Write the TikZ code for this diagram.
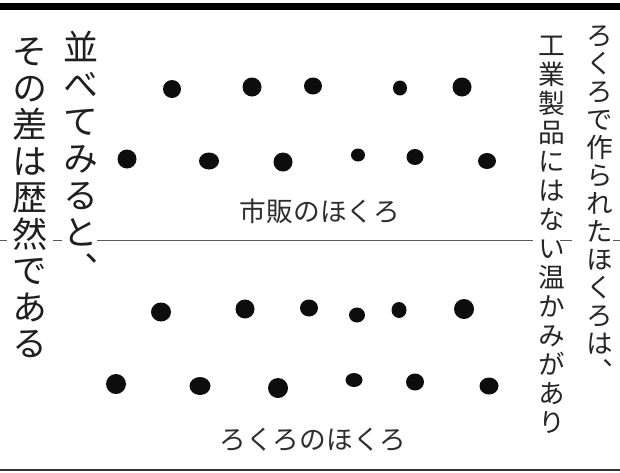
\documentclass[tikz,border=0pt]{standalone}
\usepackage{fontspec}
\newfontfamily\jp{Noto Sans CJK JP}
\newfontfamily\jpv[RawFeature=+vert]{Noto Sans CJK JP}
\begin{document}
\begin{tikzpicture}[x=1pt,y=-1pt,
  dotfill/.style={fill=black!95},
  bigcol/.style={font=\jpv\fontsize{35}{37}\selectfont, align=center, inner sep=0pt, text=black!88},
  smallcolA/.style={font=\jpv\fontsize{26.7}{28}\selectfont, align=center, inner sep=0pt, text=black!85},
  smallcolB/.style={font=\jpv\fontsize{26.7}{29}\selectfont, align=center, inner sep=0pt, text=black!85},
  caption/.style={font=\jp\fontsize{26.7}{30}\selectfont, inner sep=0pt, text=black!82},
  divider/.style={line width=0.9pt, draw=black!65}]
\useasboundingbox (0,0) rectangle (620,472);
\fill[white] (0,0) rectangle (620,472);
% top bar and bottom rule
\fill[black] (0,2.5) rectangle (620,9.5);
\draw[line width=2.2pt, draw=black!80] (0,470) -- (620,470);

% vertical texts
\node[bigcol] (colA) at (81,157) {並\\べ\\て\\み\\る\\と\\、};
\node[bigcol, font=\jpv\fontsize{35}{36.5}\selectfont] (colB) at (30,198) {そ\\の\\差\\は\\歴\\然\\で\\あ\\る};
\node[smallcolA] (colC) at (600,204) {ろ\\く\\ろ\\で\\作\\ら\\れ\\た\\ほ\\く\\ろ\\は\\、};
\node[smallcolB] (colD) at (552,234.5) {工\\業\\製\\品\\に\\は\\な\\い\\温\\か\\み\\が\\あ\\り};

% captions
\node[caption] (upper) at (320,211) {市販のほくろ};
\node[caption] (lower) at (313,440) {ろくろのほくろ};

% divider line with gaps round the vertical texts
\coordinate (d0) at (0,240);   \coordinate (d1) at (7,240);
\coordinate (d2) at (53,240);  \coordinate (d3) at (62,240);
\coordinate (d4) at (97,240);  \coordinate (d5) at (533,240);
\coordinate (d6) at (560,240); \coordinate (d7) at (572,240);
\coordinate (d8) at (613,240); \coordinate (d9) at (620,240);
\draw[divider] (d0) -- (d1) (d2) -- (d3) (d4) -- (d5) (d6) -- (d7) (d8) -- (d9);

% upper group of dots
\foreach \x/\y/\a/\b in {172/89/9/9, 252/87/9.5/9.5, 313/86/9/8.5, 400/88/7/7.5, 462/87/9.5/9.5,
  127/159/9.5/9.5, 209/161/10/8.5, 283/162/9.5/9.5, 358/155/7/6.5, 415/157/8.5/8, 487/161/9/8}
  \fill[dotfill] (\x,\y) ellipse [x radius=\a, y radius=\b];
% lower group of dots
\foreach \x/\y/\a/\b in {161/312/10/9.5, 245/309/9.5/9.5, 309/308/9/8.5, 357/315/8/7.5, 399/310/7.5/8, 464/309/10/10,
  116/384/10/10, 200/386/10.5/9, 278/388/10/10, 354/380/8.5/7, 415/382/9/8.5, 489/386/9.5/8.5}
  \fill[dotfill] (\x,\y) ellipse [x radius=\a, y radius=\b];
\end{tikzpicture}
\end{document}
